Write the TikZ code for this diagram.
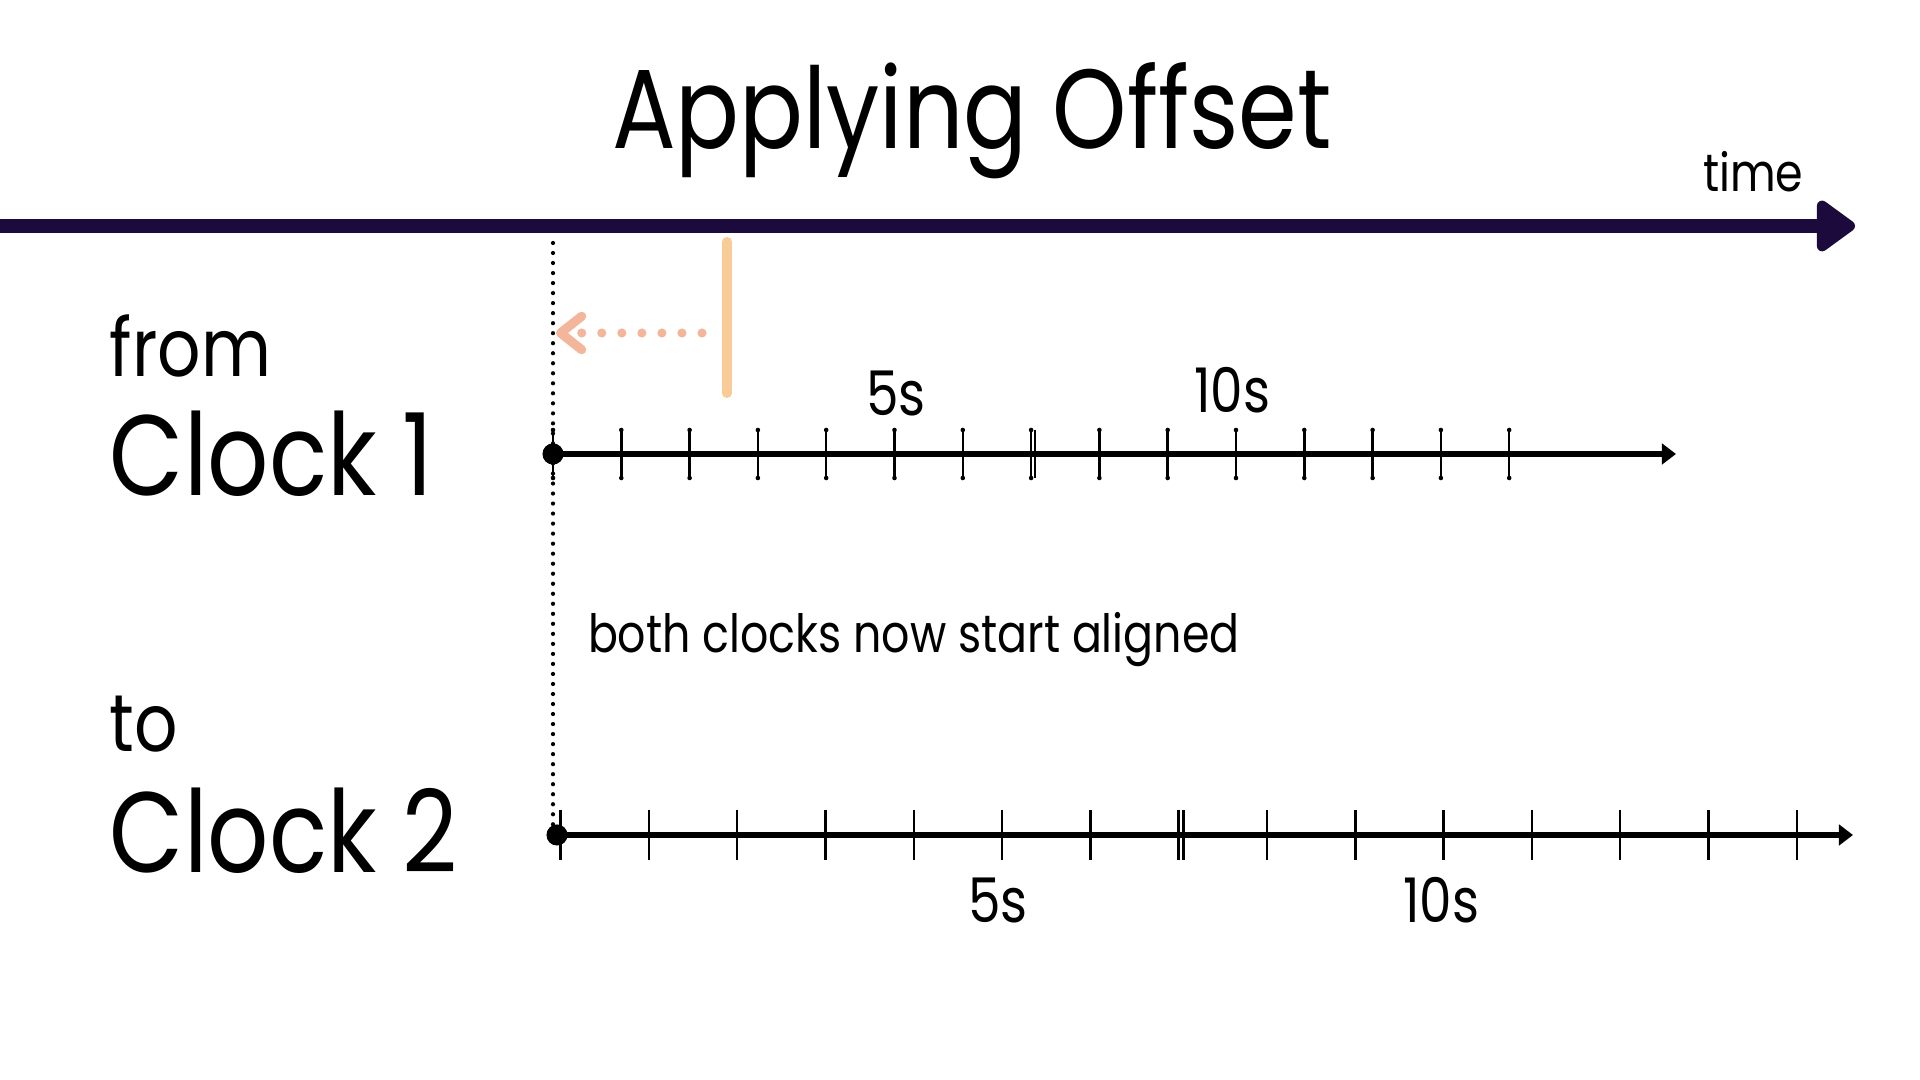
\documentclass[tikz,border=0pt]{standalone}
\usepackage{fontspec}
\setmainfont{Poppins}[FakeStretch=0.84]
\usetikzlibrary{arrows.meta}
\definecolor{bar}{HTML}{1C0A3C}
\definecolor{peach}{HTML}{F9CB96}
\definecolor{salmon}{HTML}{F4B69A}

\begin{document}
\begin{tikzpicture}[x=0.01cm,y=-0.01cm,every node/.style={inner sep=0,outer sep=0},
    axis/.style={line width=1.45pt,-{Triangle[length=4pt,width=5.8pt]}},
    tick/.style={line width=0.7pt},
    origin/.style={circle,fill=black,minimum size=6pt},
    tip/.style={circle,fill=black,minimum size=1.3pt}]
    \useasboundingbox[fill=white] (0,0) rectangle (1920,1080);
	\node (title) [anchor=base west] at (612,149) {\fontsize{32}{36}\selectfont Applying Offset};
	\node (time) [anchor=base west] at (1703,192) {\fontsize{15}{18}\selectfont time};
	\coordinate (start) at (0,226);
	\coordinate (end) at (1855,226);
	\draw[bar,line width=4pt,-{Triangle[length=12pt,width=16.5pt,round]}] (start) -- (end);
	% left labels
	\node (from) [anchor=base west] at (110,377) {\fontsize{23}{28}\selectfont from};
	\node (clk1) [anchor=base west] at (110,496) {\fontsize{32.5}{38}\selectfont Clock 1};
	\node (to) [anchor=base west] at (110,752) {\fontsize{23}{28}\selectfont to};
	\node (clk2) [anchor=base west] at (110,873) {\fontsize{32.5}{38}\selectfont Clock 2};
	% offset marks
	\coordinate (top) at (553,243);
	\coordinate (bot) at (553,833);
	\draw[line width=1.2pt,line cap=round,dash pattern=on 0pt off 2.85pt] (top) -- (bot);
	\coordinate (old1) at (727,242);
	\coordinate (old2) at (727,393);
	\draw[peach,line width=2.85pt,line cap=round] (old1) -- (old2);
	\coordinate (from1) at (702,333);
	\coordinate (to1) at (556,333);
	\draw[salmon,line width=2.6pt,line cap=round,dash pattern=on 0pt off 5.7pt,
	    -{Straight Barb[length=6pt,width=9.5pt,round]}] (from1) -- (to1);
	% clock 1
	\foreach \k in {0,...,14} {
	    \draw[tick] (553+\k*68.3,430) -- (553+\k*68.3,478);
	    \node[tip] at (553+\k*68.3,430) {};
	    \node[tip] at (553+\k*68.3,478) {};
	}
	\draw[tick] (553+7*68.3+4,430) -- (553+7*68.3+4,478);
	\node (a) [origin] at (553,454) {};
	\coordinate (aend) at (1676,454);
	\draw[axis] (a.center) -- (aend);
	\node (a5) [anchor=base] at (896,416) {\fontsize{17.5}{20}\selectfont 5s};
	\node (a10) [anchor=base] at (1232,413) {\fontsize{17.5}{20}\selectfont 10s};
	% clock 2
	\foreach \k in {0,...,14}
	    \draw[tick] (560.6+\k*88.3,810) -- (560.6+\k*88.3,860);
	\draw[tick] (560.6+7*88.3+5,810) -- (560.6+7*88.3+5,860);
	\node (b) [origin] at (557,835) {};
	\coordinate (bend) at (1853,835);
	\draw[axis] (b.center) -- (bend);
	\node (b5) [anchor=base] at (998,923) {\fontsize{17.5}{20}\selectfont 5s};
	\node (b10) [anchor=base] at (1441,923) {\fontsize{17.5}{20}\selectfont 10s};
	\node (note) [anchor=base west] at (588,653) {\fontsize{15}{18}\selectfont both clocks now start aligned};
\end{tikzpicture}
\end{document}
